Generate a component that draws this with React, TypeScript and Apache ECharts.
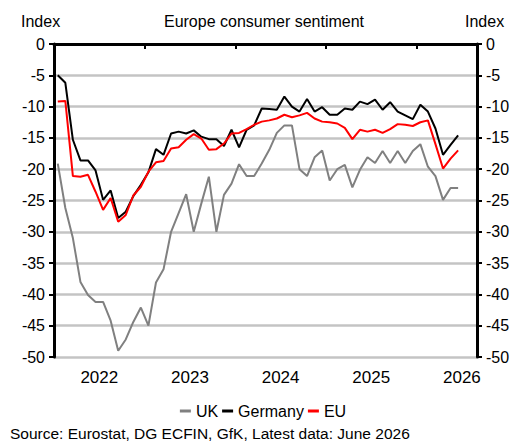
import React, { useEffect, useRef } from "react";
import * as echarts from "echarts";

const years = ["2022", "2023", "2024", "2025", "2026"];
const monthNames = ["Jan", "Feb", "Mar", "Apr", "May", "Jun", "Jul", "Aug", "Sep", "Oct", "Nov", "Dec"];
const lastMonthIndexOfAxis = 7; // axis runs to Aug 2026

const ukValues = [
  -19.1, -26.2, -31.0, -38.0, -40.1, -41.2, -41.2, -44.2, -49.0, -47.2, -44.4, -42.1,
  -45.0, -38.1, -36.0, -30.0, -27.0, -24.0, -30.0, -25.5, -21.2, -30.0, -24.1, -22.3,
  -19.2, -21.1, -21.1, -19.1, -16.9, -14.2, -13.0, -13.0, -20.0, -21.1, -18.1, -17.0,
  -21.8, -20.0, -19.3, -22.9, -20.1, -18.1, -19.0, -17.1, -19.0, -17.1, -19.0, -17.1,
  -16.0, -19.6, -21.1, -24.9, -23.0, -23.0,
];
const germanyValues = [
  -5.0, -6.2, -15.3, -18.6, -18.6, -20.2, -24.9, -23.4, -27.8, -26.8, -24.3, -22.5,
  -20.5, -16.8, -17.7, -14.3, -14.0, -14.3, -13.8, -14.8, -15.2, -15.2, -16.3, -13.7,
  -16.5, -13.7, -13.0, -10.3, -10.4, -10.5, -8.4, -10.0, -10.8, -8.8, -10.8, -10.1,
  -11.3, -11.3, -10.3, -10.5, -9.2, -9.6, -8.9, -10.5, -9.3, -10.8, -11.4, -12.0,
  -9.7, -10.8, -13.5, -17.7, -16.1, -14.6,
];
const euValues = [
  -9.2, -9.1, -21.1, -21.2, -20.9, -23.6, -26.5, -24.6, -28.4, -27.3, -24.2, -22.8,
  -20.4, -18.9, -18.7, -16.7, -16.5, -15.3, -14.4, -15.1, -16.9, -16.8, -15.9, -14.3,
  -14.2, -13.6, -12.9, -12.4, -12.2, -11.9, -11.3, -11.7, -11.4, -11.0, -11.9, -12.4,
  -12.5, -12.7, -13.4, -15.2, -13.7, -14.0, -13.7, -14.2, -13.6, -12.8, -12.9, -13.1,
  -12.5, -12.2, -16.0, -19.9, -18.3, -17.0,
];
const yTicks = { min: -50, max: 0, interval: 5 };

const categories: string[] = [];
years.forEach((y, yi) => {
  monthNames.forEach((m, mi) => {
    if (yi < years.length - 1 || mi <= lastMonthIndexOfAxis) categories.push(m + " " + y);
  });
});

const FONT = "Liberation Sans, Arial, sans-serif";

export default function App() {
  const ref = useRef<HTMLDivElement>(null);
  useEffect(() => {
    if (!ref.current) return;
    const chart = echarts.init(ref.current, undefined, { renderer: "svg" });
    const yAxisCommon = {
      type: "value" as const,
      min: yTicks.min,
      max: yTicks.max,
      interval: yTicks.interval,
      axisLine: { show: true, lineStyle: { color: "#000", width: 3 } },
      axisTick: { show: true, length: 5, lineStyle: { color: "#000", width: 2 } },
      axisLabel: { color: "#000", fontSize: 16, fontFamily: FONT, margin: 9 },
    };
    chart.setOption({
      animation: false,
      textStyle: { fontFamily: FONT },
      grid: { left: 54, right: 49, top: 44, bottom: 84, containLabel: false },
      graphic: [
        { type: "text", x: 21, y: 13, style: { text: "Index", fontSize: 16, fontFamily: FONT, fill: "#000", verticalAlign: "top" } },
        { type: "text", x: 465, y: 13, style: { text: "Index", fontSize: 16, fontFamily: FONT, fill: "#000", verticalAlign: "top" } },
        { type: "text", x: 264, y: 13, style: { text: "Europe consumer sentiment", fontSize: 16, fontFamily: FONT, fill: "#000", align: "center", verticalAlign: "top" } },
        { type: "text", x: 10, y: 425, style: { text: "Source: Eurostat, DG ECFIN, GfK, Latest data: June 2026", fontSize: 15.5, fontFamily: FONT, fill: "#000", verticalAlign: "top" } },
      ],
      legend: {
        left: "center",
        top: 398,
        icon: "rect",
        itemWidth: 11,
        itemHeight: 3,
        itemGap: 4,
        textStyle: { color: "#000", fontSize: 16, fontFamily: FONT },
        data: ["UK", "Germany", "EU"],
      },
      xAxis: [
        {
          type: "category",
          data: categories,
          boundaryGap: true,
          axisLine: { show: true, lineStyle: { color: "#000", width: 3 } },
          axisTick: { show: true, length: 5, interval: (i: number) => i % 12 === 0, lineStyle: { color: "#000", width: 2 } },
          axisLabel: { show: false },
          splitLine: { show: false },
        },
        {
          type: "value",
          position: "bottom",
          min: 0,
          max: categories.length,
          interval: 6,
          axisLine: { show: false },
          axisTick: { show: false },
          splitLine: { show: false },
          axisLabel: {
            color: "#000",
            fontSize: 17,
            fontFamily: FONT,
            margin: 12,
            formatter: (v: number) => (v % 12 === 6 ? years[(v - 6) / 12] : ""),
          },
        },
      ],
      yAxis: [
        {
          ...yAxisCommon,
          position: "left",
          splitLine: { show: true, lineStyle: { color: "#c4c4c4", width: 2.5 } },
        },
        { ...yAxisCommon, position: "right", splitLine: { show: false } },
      ],
      series: [
        { name: "UK", type: "line", data: ukValues, symbol: "none", lineStyle: { color: "#808080", width: 2 }, itemStyle: { color: "#808080" }, z: 2 },
        { name: "Germany", type: "line", data: germanyValues, symbol: "none", lineStyle: { color: "#000", width: 2 }, itemStyle: { color: "#000" }, z: 3 },
        { name: "EU", type: "line", data: euValues, symbol: "none", lineStyle: { color: "#ff0000", width: 2 }, itemStyle: { color: "#ff0000" }, z: 4 },
      ],
    });
    return () => chart.dispose();
  }, []);
  return <div ref={ref} style={{ position: "absolute", left: 0, top: 0, width: 526, height: 441 }} />;
}
